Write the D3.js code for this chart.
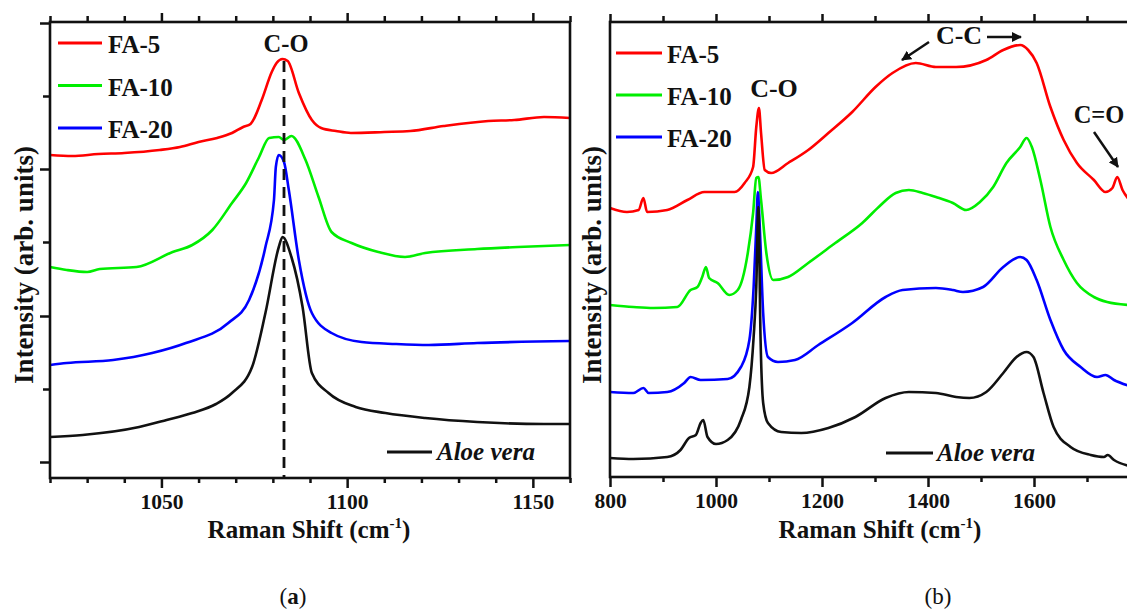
<!DOCTYPE html>
<html><head><meta charset="utf-8">
<script src="https://cdn.jsdelivr.net/npm/d3@7"></script>
<style>
html,body{margin:0;padding:0;background:#fff;}
svg{display:block;}
</style></head>
<body>
<svg id="chart" width="1127" height="611"></svg>
<script>
// ---------- Panel (a) data: [Raman shift (cm-1), intensity (arb.)] ----------
const aFA5 = [[1020,323],[1026,322],[1033,324],[1040,325],[1049.5,328],[1055,331],[1060,336],[1065,340],[1069,345],[1072,351],[1074,354],[1077,378],[1079.7,406],[1081,415],[1082.6,419],[1084,417],[1087,385],[1090.5,358],[1093,350],[1097,347],[1101,345],[1110,346],[1117,347],[1126,352],[1138,357],[1145,358],[1153,361],[1160,360]];
const aFA10 = [[1020,211],[1024.5,208],[1030,206],[1033.4,209],[1043.3,211],[1053,226],[1058.3,233],[1063.7,248],[1069,275],[1072.8,295],[1076.3,321],[1079,340],[1081.6,341],[1083,338],[1085,342],[1088.8,318],[1092.3,281],[1095.8,246],[1101.2,235],[1108.4,226],[1115.6,221],[1121,225],[1135,229],[1146,231],[1160,233]];
const aFA20 = [[1020,113],[1024.5,115],[1037,118],[1047.5,125],[1056.6,135],[1068,155],[1073.6,178],[1078,231],[1080.3,278],[1080.8,311],[1081.6,323],[1083,316],[1084.3,288],[1087,218],[1090.5,165],[1095.8,145],[1103.9,136],[1113,134],[1122,133],[1135,135],[1160,137]];
const aAloe = [[1020,41],[1028.8,43],[1044,51],[1051.4,58],[1058.3,65],[1064.7,74],[1069,85],[1074.4,111],[1078,165],[1081.6,231],[1082.6,241],[1085,221],[1088,171],[1090.5,105],[1095,85],[1102.3,71],[1110.3,65],[1121,60],[1135,56],[1153,54],[1160,54]];

// ---------- Panel (b) data ----------
const bFA5 = [[800,269],[832,265],[854,267],[863,279],[870,265],[908,267],[946,277],[978,285],[1035,285],[1054,294],[1070,310],[1076,350],[1081,369],[1085,344],[1092,307],[1104,304],[1136,314],[1174,327],[1212,344],[1257,365],[1301,390],[1333,404],[1377,414],[1415,410],[1453,410],[1510,417],[1542,427],[1574,432],[1589,427],[1605,414],[1631,370],[1656,337],[1681,314],[1713,297],[1735,285],[1748,289],[1757,300],[1767,287],[1780,277]];
const bFA10 = [[800,172],[844,170],[882,169],[927,170],[952,187],[965,190],[974,200],[981,210],[987,199],[1003,194],[1025,182],[1041,187],[1060,224],[1070,264],[1076,299],[1080,300],[1085,277],[1095,224],[1108,197],[1136,200],[1174,214],[1225,234],[1276,254],[1307,270],[1339,284],[1364,287],[1390,284],[1415,280],[1447,274],[1472,267],[1498,275],[1523,290],[1548,314],[1574,330],[1586,339],[1596,330],[1612,297],[1631,250],[1656,217],[1681,194],[1713,180],[1738,175],[1780,172]];
const bFA20 = [[800,85],[844,84],[863,89],[873,84],[908,85],[940,94],[952,100],[971,97],[1022,98],[1047,110],[1063,137],[1071,190],[1076,250],[1079,285],[1082,257],[1089,164],[1098,120],[1117,115],[1149,117],[1193,132],[1257,154],[1320,180],[1352,187],[1415,189],[1447,187],[1466,185],[1504,190],[1542,210],[1574,220],[1586,217],[1605,197],[1631,157],[1656,127],[1688,110],[1719,100],[1735,102],[1751,97],[1780,91]];
const bAloe = [[800,19],[844,18],[908,20],[933,27],[949,39],[962,42],[971,54],[976,57],[984,40],[1000,33],[1022,37],[1047,57],[1063,90],[1071,140],[1076,190],[1080,270],[1084,140],[1089,74],[1098,54],[1123,45],[1161,44],[1212,49],[1263,60],[1320,79],[1364,85],[1415,84],[1453,80],[1478,79],[1510,85],[1542,104],[1567,120],[1586,125],[1599,120],[1618,84],[1637,50],[1669,30],[1707,22],[1732,20],[1739,22],[1751,17],[1780,11]];

// ---------- Labels / ticks ----------
const seriesNames = ["FA-5","FA-10","FA-20"];
const seriesColors = ["#ff0000","#00ee00","#0000ff"];
const aloeName = "Aloe vera";
const aMajorX = [1050,1100,1150];
const aMinorX = [1020,1030,1040,1060,1070,1080,1090,1110,1120,1130,1140,1160];
const aMajorY = [16,162,309,455];
const aMinorY = [89,236,382];
const bMajorX = [800,1000,1200,1400,1600];
const bMinorX = [900,1100,1300,1500,1700];
const peakCO = 1083;

const FONT = "Liberation Serif";
const INK = "#111";
const svg = d3.select("#chart");
const defs = svg.append("defs");
defs.append("marker").attr("id","arrow").attr("viewBox","0 0 10 10").attr("refX",9).attr("refY",5)
  .attr("markerWidth",4).attr("markerHeight",4).attr("orient","auto")
  .append("path").attr("d","M0,0 L10,5 L0,10 z").attr("fill",INK);

function line(x,y){ return d3.line().x(d=>x(d[0])).y(d=>y(d[1])).curve(d3.curveMonotoneX); }

function styleAxis(g, sw){
  g.attr("font-family",FONT).attr("font-size",21.5).attr("font-weight","bold");
  g.select(".domain").remove();
  g.selectAll(".tick line").attr("stroke",INK).attr("stroke-width",sw);
  g.selectAll(".tick text").attr("font-family",FONT).attr("font-size",21.5).attr("font-weight","bold").attr("fill",INK);
}
function label(x,y,txt,size,anchor){
  return svg.append("text").attr("font-family",FONT).attr("font-weight","bold").attr("fill",INK)
    .attr("x",x).attr("y",y).attr("text-anchor",anchor||"start").attr("font-size",size).text(txt);
}
function xTitle(x, yb){
  const t = svg.append("text").attr("font-family",FONT).attr("font-weight","bold").attr("fill",INK)
    .attr("x",x).attr("y",yb).attr("text-anchor","middle").attr("font-size",25);
  t.append("tspan").text("Raman Shift (cm");
  t.append("tspan").attr("font-size",15).attr("dy",-10).text("-1");
  t.append("tspan").attr("dy",10).text(")");
}
function yTitle(x, yc){
  svg.append("text").attr("font-family",FONT).attr("font-weight","bold").attr("fill",INK)
    .attr("transform",`translate(${x},${yc}) rotate(-90)`).attr("text-anchor","middle")
    .attr("font-size",27).text("Intensity (arb. units)");
}

// ===== Panel (a) =====
{
  const x = d3.scaleLinear().domain([1020,1160]).range([50,570]);
  const y = d3.scaleLinear().domain([0,456]).range([478,22]);
  const L = line(x,y);
  const g = svg.append("g");
  [aFA5,aFA10,aFA20].forEach((d,i)=>{
    g.append("path").datum(d).attr("d",L).attr("fill","none").attr("stroke",seriesColors[i]).attr("stroke-width",2.6).attr("stroke-linejoin","round");
  });
  g.append("path").datum(aAloe).attr("d",L).attr("fill","none").attr("stroke",INK).attr("stroke-width",2.6).attr("stroke-linejoin","round");
  g.append("line").attr("x1",x(peakCO)).attr("x2",x(peakCO)).attr("y1",61).attr("y2",478)
    .attr("stroke",INK).attr("stroke-width",2.8).attr("stroke-dasharray","11,7");
  label(x(peakCO)+2,52,"C-O",24.5,"middle");

  styleAxis(svg.append("g").attr("transform","translate(0,478)").call(d3.axisBottom(x).tickValues(aMinorX).tickSize(5).tickFormat("")),2.5);
  styleAxis(svg.append("g").attr("transform","translate(0,478)").call(d3.axisBottom(x).tickValues(aMajorX).tickSize(10).tickPadding(6).tickFormat(d3.format("d"))),2.5);
  styleAxis(svg.append("g").attr("transform","translate(0,22)").call(d3.axisTop(x).tickValues(aMinorX).tickSize(6).tickFormat("")),2.5);
  styleAxis(svg.append("g").attr("transform","translate(0,22)").call(d3.axisTop(x).tickValues(aMajorX).tickSize(9).tickFormat("")),2.5);
  styleAxis(svg.append("g").attr("transform","translate(50,0)").call(d3.axisLeft(y).tickValues(aMajorY).tickSize(10).tickFormat("")),2.5);
  styleAxis(svg.append("g").attr("transform","translate(50,0)").call(d3.axisLeft(y).tickValues(aMinorY).tickSize(7).tickFormat("")),2.5);
  svg.append("rect").attr("x",50).attr("y",22).attr("width",520).attr("height",456).attr("fill","none").attr("stroke",INK).attr("stroke-width",2.6);

  seriesNames.forEach((n,i)=>{
    const yy = 43 + i*42.5;
    svg.append("line").attr("x1",58).attr("x2",102).attr("y1",yy).attr("y2",yy).attr("stroke",seriesColors[i]).attr("stroke-width",3.2);
    label(108,yy+10,n,25);
  });
  svg.append("line").attr("x1",387).attr("x2",432).attr("y1",452).attr("y2",452).attr("stroke",INK).attr("stroke-width",3);
  label(437,460,aloeName,25).attr("font-style","italic");

  xTitle(309,538);
  yTitle(33,265);
  const ta = svg.append("text").attr("font-family",FONT).attr("fill",INK).attr("x",293).attr("y",604).attr("text-anchor","middle").attr("font-size",23);
  ta.append("tspan").text("(");
  ta.append("tspan").attr("font-weight","bold").text("a");
  ta.append("tspan").text(")");
}

// ===== Panel (b) =====
{
  const x = d3.scaleLinear().domain([800,1780]).range([610,1129.4]);
  const y = d3.scaleLinear().domain([0,455]).range([477,22]);
  const L = line(x,y);
  const g = svg.append("g");
  [bFA5,bFA10,bFA20].forEach((d,i)=>{
    g.append("path").datum(d).attr("d",L).attr("fill","none").attr("stroke",seriesColors[i]).attr("stroke-width",2.6).attr("stroke-linejoin","round");
  });
  g.append("path").datum(bAloe).attr("d",L).attr("fill","none").attr("stroke",INK).attr("stroke-width",2.6).attr("stroke-linejoin","round");

  styleAxis(svg.append("g").attr("transform","translate(0,477)").call(d3.axisBottom(x).tickValues(bMinorX).tickSize(5).tickFormat("")),2.5);
  styleAxis(svg.append("g").attr("transform","translate(0,477)").call(d3.axisBottom(x).tickValues(bMajorX).tickSize(10).tickPadding(6).tickFormat(d3.format("d"))),2.5);
  styleAxis(svg.append("g").attr("transform","translate(0,22)").call(d3.axisTop(x).tickValues(bMinorX).tickSize(6).tickFormat("")),2.5);
  styleAxis(svg.append("g").attr("transform","translate(0,22)").call(d3.axisTop(x).tickValues(bMajorX).tickSize(8).tickFormat("")),2.5);
  svg.append("rect").attr("x",610).attr("y",22).attr("width",519.4).attr("height",455).attr("fill","none").attr("stroke",INK).attr("stroke-width",2.6);

  seriesNames.forEach((n,i)=>{
    const yy = 53 + i*42;
    svg.append("line").attr("x1",616).attr("x2",662).attr("y1",yy).attr("y2",yy).attr("stroke",seriesColors[i]).attr("stroke-width",3.2);
    label(667,yy+10,n,25);
  });
  svg.append("line").attr("x1",886).attr("x2",933).attr("y1",453).attr("y2",453).attr("stroke",INK).attr("stroke-width",3);
  label(937,461,aloeName,25).attr("font-style","italic");

  label(774,97,"C-O",26,"middle");
  label(959,44,"C-C",26,"middle");
  svg.append("line").attr("x1",929).attr("y1",42).attr("x2",902).attr("y2",60).attr("stroke",INK).attr("stroke-width",2.5).attr("marker-end","url(#arrow)");
  svg.append("line").attr("x1",987).attr("y1",37).attr("x2",1021).attr("y2",37).attr("stroke",INK).attr("stroke-width",2.5).attr("marker-end","url(#arrow)");
  label(1099,123,"C=O",24.5,"middle");
  svg.append("line").attr("x1",1094).attr("y1",132).attr("x2",1118).attr("y2",167).attr("stroke",INK).attr("stroke-width",2.5).attr("marker-end","url(#arrow)");

  xTitle(880,538);
  yTitle(601,265);
  svg.append("text").attr("font-family",FONT).attr("fill",INK).attr("x",938).attr("y",604).attr("text-anchor","middle").attr("font-size",23).text("(b)");
}
</script>
</body></html>
